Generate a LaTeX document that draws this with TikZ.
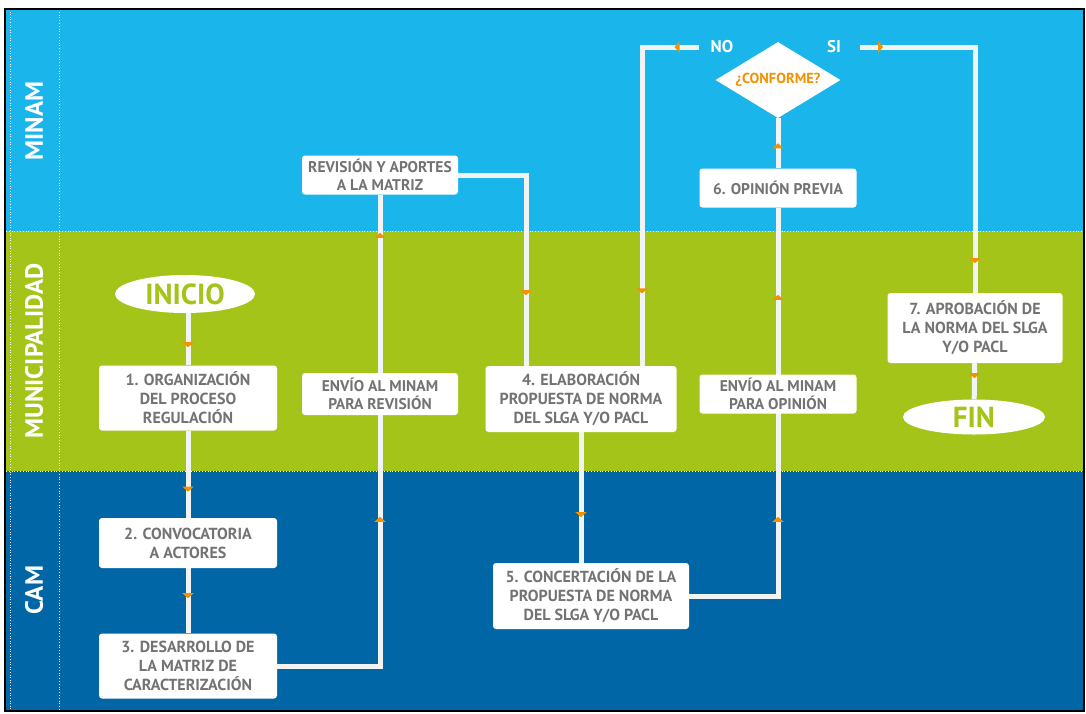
\documentclass[tikz,border=0pt]{standalone}
\usepackage{fontspec}
\setmainfont{PT Sans}
\usepackage{tikz}
\usetikzlibrary{positioning,shapes.geometric,arrows.meta,decorations.markings}

\definecolor{minamblue}{HTML}{1AB5EA}
\definecolor{munigreen}{HTML}{A4C41A}
\definecolor{camblue}{HTML}{0066A5}
\definecolor{boxgray}{HTML}{737373}
\definecolor{markorange}{HTML}{F39200}
\definecolor{flowwhite}{HTML}{F2F4F4}

\pgfdeclarelayer{lanes}
\pgfdeclarelayer{flow}
\pgfsetlayers{lanes,flow,main}

\begin{document}
\begin{tikzpicture}[x=1pt, y=-1pt,
  stepbox/.style={rectangle, rounded corners=3pt, fill=white, text=boxgray, font=\bfseries\fontsize{16}{19}\selectfont, align=center, inner sep=3pt},
  smallbox/.style={stepbox, font=\bfseries\fontsize{15.5}{18}\selectfont},
  endnode/.style={ellipse, fill=white, text=munigreen, font=\bfseries\fontsize{29}{29}\selectfont, inner sep=0pt},
  decision/.style={diamond, aspect=1.65, fill=white, text=markorange, font=\bfseries\fontsize{14.5}{14.5}\selectfont, inner sep=0pt, minimum width=125pt, minimum height=76pt},
  answer/.style={text=white, font=\bfseries\fontsize{17}{17}\selectfont, inner sep=3pt},
  lanelabel/.style={text=white, font=\bfseries\fontsize{25}{25}\selectfont, rotate=90},
  flowline/.style={draw=flowwhite, line width=5pt},
  flowmark/.style={postaction={decorate, decoration={markings, mark=at position #1pt with {\arrow[color=markorange]{Triangle[width=11pt,length=5pt]}}}}}]

\useasboundingbox (0,0) rectangle (1086,713);

\begin{pgfonlayer}{lanes}
\fill[minamblue] (6,9) rectangle (1084,231);
\fill[munigreen] (6,231) rectangle (1084,471);
\fill[camblue] (6,471) rectangle (1084,711);
\draw[white, dotted, line width=0.8pt] (6,231) -- (1084,231);
\draw[white, dotted, line width=0.8pt] (6,471) -- (1084,471);
\draw[white, dotted, line width=0.8pt] (59,9) -- (59,711);
\draw[white, dotted, line width=0.6pt] (10,9) -- (10,711);
\end{pgfonlayer}
\draw[black, line width=2pt] (5,9) rectangle (1084,711);

\node[lanelabel] at (34,121) (lminam) {MINAM};
\node[lanelabel] at (34,351) (lmuni) {MUNICIPALIDAD};
\node[lanelabel] at (34,590) (lcam) {CAM};

\node[endnode, minimum width=140pt, minimum height=38pt] at (185,294) (inicio) {INICIO};
\node[stepbox, minimum width=178pt, minimum height=65pt] at (188,398) (s1) {1. ORGANIZACIÓN\\DEL PROCESO\\REGULACIÓN};
\node[stepbox, minimum width=178pt, minimum height=50pt] at (188,543) (s2) {2. CONVOCATORIA\\A ACTORES};
\node[stepbox, minimum width=178pt, minimum height=65pt] at (188,666) (s3) {3. DESARROLLO DE\\LA MATRIZ DE\\CARACTERIZACIÓN};
\node[smallbox, minimum width=156pt, minimum height=42pt] at (380,394) (envrev) {ENVÍO AL MINAM\\PARA REVISIÓN};
\node[smallbox, minimum width=156pt, minimum height=39pt] at (380,175) (rev) {REVISIÓN Y APORTES\\A LA MATRIZ};
\node[stepbox, minimum width=191pt, minimum height=66pt] at (581,399) (s4) {4. ELABORACIÓN\\PROPUESTA DE NORMA\\DEL SLGA Y/O PACL};
\node[stepbox, minimum width=196pt, minimum height=66pt] at (591,596) (s5) {5. CONCERTACIÓN DE LA\\PROPUESTA DE NORMA\\DEL SLGA Y/O PACL};
\node[smallbox, minimum width=157pt, minimum height=39pt] at (778,394) (envop) {ENVÍO AL MINAM\\PARA OPINIÓN};
\node[smallbox, minimum width=157pt, minimum height=39pt] at (778,188) (s6) {6. OPINIÓN PREVIA};
\node[decision] at (778,80) (conf) {¿CONFORME?};
\node[answer] at (722,47) (no) {NO};
\node[answer] at (834,47) (si) {SI};
\node[stepbox, minimum width=175pt, minimum height=70pt] at (975,328) (s7) {7. APROBACIÓN DE\\LA NORMA DEL SLGA\\Y/O PACL};
\node[endnode, minimum width=142pt, minimum height=35pt] at (974,417) (fin) {FIN};

\begin{pgfonlayer}{flow}
\draw[flowline, flowmark=34] (inicio.south -| s1.north) -- (s1.north);
\draw[flowline, flowmark=61] (s1) -- (s2);
\draw[flowline, flowmark=30] (s2) -- (s3);
\draw[flowline, flowmark=252, flowmark=536] (s3.east) -| (rev.south);
\draw[flowline, flowmark=188] (rev.east) -| ([xshift=-55pt]s4.north);
\draw[flowline, flowmark=85] (s4.south) -- (s4.south |- s5.north);
\draw[flowline, flowmark=168, flowmark=390] (s5.east) -| (s6.south);
\draw[flowline, flowmark=25] (s6) -- (conf);
\draw[flowline, flowmark=24, flowmark=303] ([xshift=-9pt]no.west) -| ([xshift=61pt]s4.north);
\draw[flowline, flowmark=23, flowmark=331] ([xshift=16pt]si.east) -| (s7.north);
\draw[flowline, flowmark=15] (s7) -- (fin);
\end{pgfonlayer}

\end{tikzpicture}
\end{document}
